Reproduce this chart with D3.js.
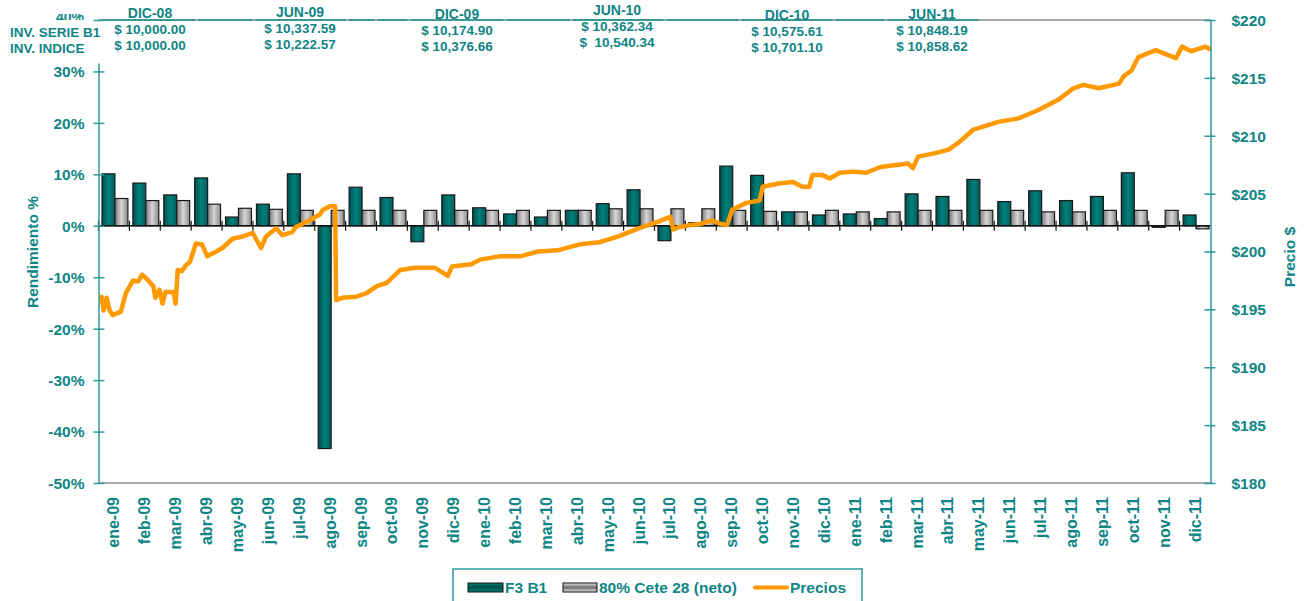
<!DOCTYPE html>
<html>
<head>
<meta charset="utf-8">
<script src="https://cdn.jsdelivr.net/npm/d3@7"></script>
<style>
  body { margin: 0; background: #fff; }
  svg { display: block; font-family: "Liberation Sans", Arial, sans-serif; font-weight: bold; }
  text { white-space: pre; }
</style>
</head>
<body>
<div id="chart"></div>
<script>
// categories
const months = ["ene-09","feb-09","mar-09","abr-09","may-09","jun-09","jul-09","ago-09","sep-09","oct-09","nov-09","dic-09",
                "ene-10","feb-10","mar-10","abr-10","may-10","jun-10","jul-10","ago-10","sep-10","oct-10","nov-10","dic-10",
                "ene-11","feb-11","mar-11","abr-11","may-11","jun-11","jul-11","ago-11","sep-11","oct-11","nov-11","dic-11"];

// monthly returns (%)
const f3b1 = [10.1, 8.3, 6.0, 9.3, 1.7, 4.2, 10.1, -43.3, 7.5, 5.5, -3.1, 6.0,
              3.5, 2.3, 1.7, 3.0, 4.3, 7.0, -2.9, 0.6, 11.6, 9.8, 2.7, 2.1,
              2.3, 1.4, 6.2, 5.7, 9.0, 4.7, 6.8, 4.9, 5.7, 10.3, -0.3, 2.1];
const cete = [5.3, 4.9, 4.9, 4.2, 3.4, 3.2, 3.0, 3.0, 3.0, 3.0, 3.0, 3.0,
              3.0, 3.0, 3.0, 3.0, 3.3, 3.3, 3.3, 3.3, 3.0, 2.8, 2.7, 3.0,
              2.7, 2.7, 3.0, 3.0, 3.0, 3.0, 2.7, 2.7, 3.0, 3.0, 3.0, -0.6];

// price series
const priceDates = ["2009-01-04","2009-01-06","2009-01-09","2009-01-12","2009-01-15","2009-01-23","2009-01-28",
  "2009-02-04","2009-02-09","2009-02-13","2009-02-19","2009-02-24","2009-02-26","2009-03-02","2009-03-05","2009-03-08",
  "2009-03-16","2009-03-18","2009-03-20","2009-03-24","2009-03-28","2009-04-01","2009-04-07","2009-04-13","2009-04-18",
  "2009-04-27","2009-05-03","2009-05-13","2009-05-23","2009-06-02","2009-06-10","2009-06-15","2009-06-25","2009-07-01",
  "2009-07-11","2009-07-14","2009-07-21","2009-07-28","2009-08-07","2009-08-10","2009-08-17","2009-08-22","2009-08-23",
  "2009-08-29","2009-09-12","2009-09-22","2009-10-02","2009-10-12","2009-10-25","2009-11-09","2009-11-28","2009-12-11",
  "2009-12-15","2010-01-03","2010-01-12","2010-02-01","2010-02-21","2010-03-10","2010-03-29","2010-04-19","2010-05-09",
  "2010-05-28","2010-06-17","2010-07-07","2010-07-18","2010-07-21","2010-07-26","2010-08-08","2010-08-18","2010-08-28",
  "2010-09-05","2010-09-12","2010-09-17","2010-10-01","2010-10-14","2010-10-17","2010-11-03","2010-11-16","2010-11-25",
  "2010-12-02","2010-12-05","2010-12-15","2010-12-22","2011-01-01","2011-01-14","2011-01-27","2011-02-10","2011-03-09",
  "2011-03-14","2011-03-19","2011-04-05","2011-04-18","2011-04-28","2011-05-12","2011-06-06","2011-06-26","2011-07-15",
  "2011-08-04","2011-08-19","2011-08-29","2011-09-13","2011-10-03","2011-10-08","2011-10-15","2011-10-22","2011-11-08",
  "2011-11-28","2011-12-04","2011-12-13","2011-12-27","2011-12-31"];
const priceValues = [196.1,194.9,196.0,194.9,194.5,194.8,196.4,
  197.5,197.4,198.0,197.5,197.0,196.0,196.7,195.5,196.5,
  196.5,195.5,198.4,198.3,198.8,199.1,200.7,200.6,199.6,
  200.0,200.3,201.1,201.3,201.6,200.3,201.3,202.0,201.4,
  201.7,202.1,202.4,202.7,203.2,203.6,203.9,203.9,195.8,
  196.0,196.1,196.4,197.0,197.3,198.4,198.6,198.6,197.9,
  198.7,198.9,199.3,199.6,199.6,200.0,200.1,200.6,200.8,
  201.3,202.0,202.6,203.0,201.9,202.1,202.3,202.4,202.7,
  202.4,202.3,203.6,204.2,204.4,205.6,205.9,206.0,205.6,
  205.6,206.6,206.6,206.3,206.8,206.9,206.8,207.3,207.6,
  207.2,208.2,208.5,208.8,209.4,210.5,211.2,211.5,212.2,
  213.1,214.1,214.4,214.1,214.5,215.2,215.6,216.8,217.4,
  216.7,217.7,217.3,217.7,217.5];

// tick labels
const leftTicks = [-50,-40,-30,-20,-10,0,10,20,30,40];
const rightTicks = [180,185,190,195,200,205,210,215,220];

// header table
const headerLabels = ["DIC-08","JUN-09","DIC-09","JUN-10","DIC-10","JUN-11"];
const invSerie = ["$ 10,000.00","$ 10,337.59","$ 10,174.90","$ 10,362.34","$ 10,575.61","$ 10,848.19"];
const invIndice = ["$ 10,000.00","$ 10,222.57","$ 10,376.66","$  10,540.34","$ 10,701.10","$ 10,858.62"];
const rowLabels = ["INV. SERIE B1","INV. INDICE"];

// layout for header columns (x centre, vertical shift)
const headerX = [150, 300, 457, 617, 787, 932];
const headerDy = [0, -1, 1, -3, 2, 1];

const W = 1305, H = 601;
const m = {left: 98.5, right: 1210.5, top: 20, bottom: 483};
const teal = "#0f8585", axisTeal = "#2e9a9a";

const svg = d3.select("#chart").append("svg").attr("width", W).attr("height", H);
const defs = svg.append("defs");

function grad(id, stops) {
  const g = defs.append("linearGradient").attr("id", id)
    .attr("x1", "0%").attr("x2", "100%").attr("y1", "0%").attr("y2", "0%");
  stops.forEach((c, i) => g.append("stop").attr("offset", (i / (stops.length - 1) * 100) + "%").attr("stop-color", c));
}
grad("gF3", ["#004f4c", "#00807b", "#005c59"]);
grad("gCete", ["#7a7a7a", "#d6d6d6", "#8a8a8a"]);
const lg1 = defs.append("linearGradient").attr("id", "gF3v").attr("x1","0").attr("x2","0").attr("y1","0").attr("y2","1");
[["0%","#00807b"],["50%","#004f4c"],["100%","#00807b"]].forEach(s => lg1.append("stop").attr("offset", s[0]).attr("stop-color", s[1]));
const lg2 = defs.append("linearGradient").attr("id", "gCetev").attr("x1","0").attr("x2","0").attr("y1","0").attr("y2","1");
[["0%","#e0e0e0"],["50%","#707070"],["100%","#e0e0e0"]].forEach(s => lg2.append("stop").attr("offset", s[0]).attr("stop-color", s[1]));

// scales
const x0 = d3.scaleBand().domain(months).range([m.left, m.right]);
const x1 = d3.scaleBand().domain(["f3", "cete"]).range([3.5, x0.bandwidth() - 1.5]);
const yL = d3.scaleLinear().domain([-50, 40]).range([m.bottom, m.top]);
const yR = d3.scaleLinear().domain([180, 220]).range([m.bottom, m.top]);
const xT = d3.scaleTime().domain([new Date(2009, 0, 1), new Date(2012, 0, 1)]).range([m.left, m.right]);

// plot frame (bottom and top in gray)
svg.append("line").attr("x1", m.left).attr("x2", m.right).attr("y1", m.bottom).attr("y2", m.bottom)
  .attr("stroke", "#8c8c8c").attr("stroke-width", 1.5);
svg.append("line").attr("x1", m.left).attr("x2", m.right).attr("y1", m.top).attr("y2", m.top)
  .attr("stroke", "#8c8c8c").attr("stroke-width", 1.5);

// bars
const gBars = svg.append("g");
months.forEach((mo, i) => {
  [["f3", f3b1[i], "url(#gF3)"], ["cete", cete[i], "url(#gCete)"]].forEach(([k, v, fill]) => {
    gBars.append("rect")
      .attr("x", x0(mo) + x1(k))
      .attr("width", x1.bandwidth())
      .attr("y", yL(Math.max(0, v)))
      .attr("height", Math.max(1, Math.abs(yL(v) - yL(0))))
      .attr("fill", fill)
      .attr("stroke", "#1a1a1a").attr("stroke-width", 1.2);
  });
});

// zero axis with category ticks
svg.append("line").attr("x1", m.left).attr("x2", m.right).attr("y1", yL(0)).attr("y2", yL(0))
  .attr("stroke", "#111").attr("stroke-width", 1.5);
months.forEach(mo => {
  svg.append("line").attr("x1", x0(mo)).attr("x2", x0(mo)).attr("y1", yL(0) - 5).attr("y2", yL(0) + 5)
    .attr("stroke", "#111").attr("stroke-width", 1.2);
});

// price line
const prices = priceDates.map((d, i) => ({date: d3.timeParse("%Y-%m-%d")(d), v: priceValues[i]}));
svg.append("path").datum(prices)
  .attr("fill", "none").attr("stroke", "#ff9900").attr("stroke-width", 4.5)
  .attr("stroke-linejoin", "round").attr("stroke-linecap", "round")
  .attr("d", d3.line().x(d => xT(d.date)).y(d => yR(d.v)));

// left axis (40% label is drawn separately, half hidden by the table)
const axL = svg.append("g").attr("transform", `translate(${m.left},0)`)
  .call(d3.axisLeft(yL).tickValues(leftTicks).tickFormat(d => d === 40 ? "" : d + "%").tickSizeInner(5).tickSizeOuter(0));
axL.select(".domain").attr("stroke", axisTeal).attr("stroke-width", 1.5);
axL.selectAll(".tick line").attr("stroke", axisTeal).attr("stroke-width", 1.5).attr("x2", 6).attr("x1", -5);
axL.selectAll(".tick text").attr("fill", teal).attr("font-size", 15.5).attr("x", -14).attr("dy", "0.35em")
  .attr("font-family", "Liberation Sans, Arial, sans-serif").attr("font-weight", "bold");

// right axis
const axR = svg.append("g").attr("transform", `translate(${m.right},0)`)
  .call(d3.axisRight(yR).tickValues(rightTicks).tickFormat(d => "$" + d).tickSizeInner(5).tickSizeOuter(0));
axR.select(".domain").attr("stroke", axisTeal).attr("stroke-width", 1.5);
axR.selectAll(".tick line").attr("stroke", axisTeal).attr("stroke-width", 1.5).attr("x1", -6).attr("x2", 5);
axR.selectAll(".tick text").attr("fill", teal).attr("font-size", 15.5).attr("x", 21).attr("dy", "0.35em")
  .attr("font-family", "Liberation Sans, Arial, sans-serif").attr("font-weight", "bold");

// x labels
svg.append("g").selectAll("text").data(months).join("text")
  .attr("transform", d => `translate(${x0(d) + x0.bandwidth() / 2 + 5.5},497) rotate(-90)`)
  .attr("text-anchor", "end").attr("fill", teal).attr("font-size", 16).text(d => d);

// axis titles
svg.append("text").attr("transform", "translate(38,252) rotate(-90)").attr("text-anchor", "middle")
  .attr("fill", teal).attr("font-size", 15.5).text("Rendimiento %");
svg.append("text").attr("transform", "translate(1295,257) rotate(-90)").attr("text-anchor", "middle")
  .attr("fill", teal).attr("font-size", 15.5).text("Precio $");

// header table (covers the top of the plot)
svg.append("rect").attr("x", 0).attr("y", 21.5).attr("width", 985).attr("height", 42).attr("fill", "#fff");
const gaps = [100, 197, 254, 347, 376, 409, 505, 571, 665, 740, 834, 886, 980];
for (let i = 0; i < gaps.length - 1; i++) {
  svg.append("line").attr("x1", gaps[i] + 1.5).attr("x2", gaps[i + 1] - 1.5).attr("y1", 20).attr("y2", 20)
    .attr("stroke", "#3c9797").attr("stroke-width", 2);
}
rowLabels.forEach((t, i) => {
  svg.append("text").attr("x", 10).attr("y", 37 + i * 16).attr("fill", teal).attr("font-size", 13.5).text(t);
});
headerLabels.forEach((t, i) => {
  const g = svg.append("g").attr("transform", `translate(${headerX[i]},${headerDy[i]})`);
  g.append("text").attr("y", 18).attr("text-anchor", "middle").attr("fill", teal).attr("font-size", 14).text(t);
  g.append("text").attr("y", 34).attr("text-anchor", "middle").attr("fill", teal).attr("font-size", 13.5).text(invSerie[i]);
  g.append("text").attr("y", 50).attr("text-anchor", "middle").attr("fill", teal).attr("font-size", 13.5).text(invIndice[i]);
});
// partially covered 40% label
defs.append("clipPath").attr("id", "clip40").append("rect").attr("x", 0).attr("y", 14).attr("width", 100).attr("height", 6);
svg.append("text").attr("x", 84).attr("y", 22).attr("text-anchor", "end").attr("fill", teal).attr("font-size", 14).text("40%")
  .attr("clip-path", "url(#clip40)");

// legend
const lgd = svg.append("g");
lgd.append("rect").attr("x", 453).attr("y", 569).attr("width", 409).attr("height", 40)
  .attr("fill", "#fff").attr("stroke", axisTeal).attr("stroke-width", 1.5);
lgd.append("rect").attr("x", 468).attr("y", 583).attr("width", 35).attr("height", 9)
  .attr("fill", "url(#gF3v)").attr("stroke", "#111");
lgd.append("text").attr("x", 505).attr("y", 593).attr("fill", teal).attr("font-size", 15.5).text("F3 B1");
lgd.append("rect").attr("x", 563).attr("y", 583).attr("width", 34).attr("height", 9)
  .attr("fill", "url(#gCetev)").attr("stroke", "#111");
lgd.append("text").attr("x", 599).attr("y", 593).attr("fill", teal).attr("font-size", 15.5).text("80% Cete 28 (neto)");
lgd.append("line").attr("x1", 755).attr("x2", 787).attr("y1", 587.5).attr("y2", 587.5)
  .attr("stroke", "#ff9900").attr("stroke-width", 4).attr("stroke-linecap", "round");
lgd.append("text").attr("x", 790).attr("y", 593).attr("fill", teal).attr("font-size", 15.5).text("Precios");
</script>
</body>
</html>
